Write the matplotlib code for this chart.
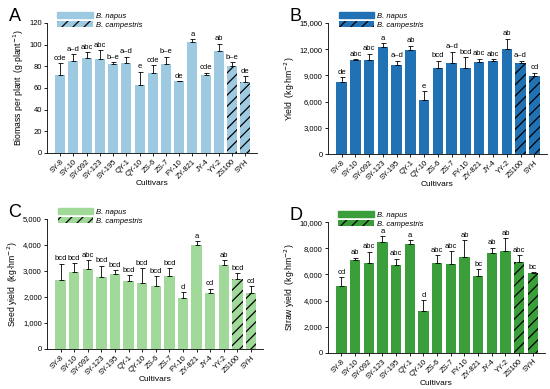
import numpy as np
import matplotlib
matplotlib.use("Agg")
import matplotlib.pyplot as plt
from matplotlib.patches import Patch
from matplotlib.ticker import FuncFormatter

plt.rcParams['font.family'] = ['Liberation Sans', 'DejaVu Sans']
plt.rcParams['hatch.linewidth'] = 0.9

cultivars = ["SY-8", "SY-10", "SY-092", "SY-123", "SY-195", "QY-1", "QY-10", "ZS-6",
             "ZS-7", "FY-10", "ZY-821", "JY-4", "YY-2", "ZS100", "SYH"]
n_napus = 13  # last two are B. campestris

biomass = [72, 85, 87.5, 87, 82, 83, 63, 74, 82, 66, 102, 72, 94.5, 80, 65.5]
biomass_err = [11, 6, 5.5, 8, 2, 6, 12, 7, 7, 0.5, 3, 2, 6.5, 3.5, 5.5]
biomass_let = ["cde", "a\u2013d", "abc", "abc", "b\u2013e", "a\u2013d", "e", "cde",
               "b\u2013e", "de", "a", "cde", "ab", "b\u2013e", "de"]

yld = [8300, 10800, 10800, 12200, 10200, 11900, 6150, 9900, 10400, 9900, 10550, 10700,
       12050, 10450, 8900]
yld_err = [500, 60, 700, 500, 500, 500, 1050, 800, 1300, 1200, 350, 150, 1150, 250, 400]
yld_let = ["de", "abc", "abc", "a", "a\u2013d", "ab", "e", "bcd", "a\u2013d", "bcd",
           "abc", "abc", "ab", "a\u2013d", "cd"]

seed = [2650, 2950, 3080, 2780, 2880, 2600, 2530, 2440, 2820, 1960, 4000, 2160, 3230,
        2700, 2150]
seed_err = [630, 350, 340, 420, 140, 230, 590, 350, 290, 220, 160, 160, 200, 220, 270]
seed_let = ["bcd", "bcd", "abc", "bcd", "bcd", "bcd", "bcd", "bcd", "bcd", "d", "a",
            "cd", "ab", "bcd", "cd"]

straw = [5100, 7100, 6900, 8500, 6700, 8350, 3200, 6850, 6800, 7350, 5900, 7650, 7800,
         6950, 6100]
straw_err = [700, 180, 850, 400, 500, 250, 850, 600, 1000, 1250, 500, 400, 950, 500, 50]
straw_let = ["cd", "ab", "abc", "a", "abc", "a", "d", "abc", "abc", "ab", "bc", "ab",
             "ab", "abc", "bc"]

panels = [
    ("A", biomass, biomass_err, biomass_let, "#9ecae1",
     "Biomass per plant  (g\u00b7plant$^{-1}$)", 120, 20, [0.0855, 0.607, 0.382, 0.334]),
    ("B", yld, yld_err, yld_let, "#2171b5",
     "Yield  (kg\u00b7hm$^{-2}$)", 15000, 3000, [0.596, 0.604, 0.398, 0.337]),
    ("C", seed, seed_err, seed_let, "#a1d99b",
     "Seed yield  (kg\u00b7hm$^{-2}$)", 5000, 1000, [0.0855, 0.103, 0.393, 0.334]),
    ("D", straw, straw_err, straw_let, "#3a9e3a",
     "Straw yield  (kg\u00b7hm$^{-2}$)", 10000, 2000, [0.596, 0.093, 0.395, 0.336]),
]

fig = plt.figure(figsize=(5.5, 3.89), dpi=100)
x = np.arange(len(cultivars))

for label, vals, errs, lets, color, ylabel, ymax, step, pos in panels:
    ax = fig.add_axes(pos)
    hatches = [""] * n_napus + ["///"] * (len(cultivars) - n_napus)
    bars = ax.bar(x, vals, width=0.76, color=color, edgecolor="black", linewidth=0)
    for b, h in zip(bars, hatches):
        b.set_hatch(h)
    ax.errorbar(x, vals, yerr=[np.zeros(len(vals)), errs], fmt="none", ecolor="black",
                elinewidth=0.6, capsize=1.8, capthick=0.6)
    for xi, v, e, t in zip(x, vals, errs, lets):
        ax.text(xi, v + e + ymax * 0.01, t, ha="center", va="bottom", fontsize=5.5)
    ax.set_xlim(-1.0, 14.9)
    ax.set_ylim(0, ymax)
    ax.set_yticks(np.arange(0, ymax + 1, step))
    if ymax >= 1000:
        ax.yaxis.set_major_formatter(FuncFormatter(lambda v, p: f"{int(v):,}"))
    ax.set_xticks(x)
    ax.set_xticklabels(cultivars, rotation=45, ha="right", rotation_mode="anchor")
    ax.tick_params(labelsize=5.5, length=2.2, width=0.6, pad=1.5)
    for s in ["top", "right"]:
        ax.spines[s].set_visible(False)
    for s in ["left", "bottom"]:
        ax.spines[s].set_linewidth(0.6)
    ax.set_xlabel("Cultivars", fontsize=6, labelpad=0)
    ax.set_ylabel(ylabel, fontsize=6.2, labelpad=2)
    handles = [Patch(facecolor=color, edgecolor=color, label="B. napus"),
               Patch(facecolor=color, edgecolor="black", linewidth=0, hatch="///",
                     label="B. campestris")]
    ax.legend(handles=handles, loc="upper left", bbox_to_anchor=(0.035, 1.11),
              frameon=False, prop={"style": "italic", "size": 5.5},
              handlelength=4.6, handleheight=0.95, handletextpad=0.4,
              labelspacing=0.15, borderaxespad=0)
    fig.text(pos[0] - 0.07, pos[1] + pos[3] + 0.005, label, fontsize=13)

fig.savefig("out.png", dpi=100)
